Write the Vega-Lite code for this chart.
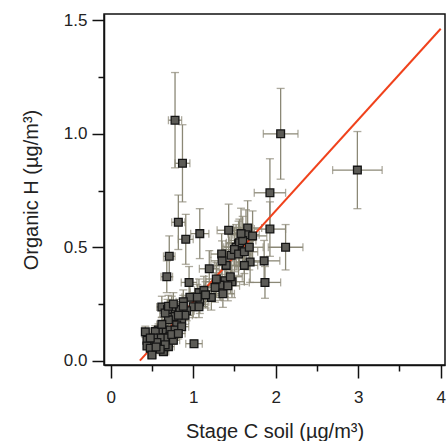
{
  "$schema": "https://vega.github.io/schema/vega-lite/v6.json",
  "width": 341,
  "height": 351,
  "autosize": {"type": "none"},
  "padding": {"left": 104, "top": 14, "right": 2, "bottom": 76},
  "background": "white",
  "config": {
    "font": "Liberation Sans",
    "view": {"stroke": "#111111", "strokeWidth": 1.5},
    "axis": {
      "grid": false,
      "domainColor": "#111111",
      "domainWidth": 1.5,
      "tickColor": "#111111",
      "tickWidth": 1.5,
      "labelFont": "Liberation Sans",
      "labelFontSize": 17,
      "labelColor": "#222222",
      "titleFont": "Liberation Sans",
      "titleFontSize": 20,
      "titleFontWeight": "normal",
      "titleColor": "#222222"
    }
  },
  "datasets": {
    "pts": [
      {"x":0.78,"y":1.06,"ex":0.08,"ey":0.21},
      {"x":0.87,"y":0.87,"ex":0.09,"ey":0.17},
      {"x":2.06,"y":1.00,"ex":0.21,"ey":0.20},
      {"x":2.99,"y":0.84,"ex":0.30,"ey":0.17},
      {"x":1.93,"y":0.74,"ex":0.19,"ey":0.15},
      {"x":0.82,"y":0.61,"ex":0.08,"ey":0.12},
      {"x":1.08,"y":0.56,"ex":0.11,"ey":0.11},
      {"x":0.91,"y":0.535,"ex":0.09,"ey":0.11},
      {"x":0.71,"y":0.46,"ex":0.07,"ey":0.09},
      {"x":0.68,"y":0.37,"ex":0.07,"ey":0.07},
      {"x":1.43,"y":0.575,"ex":0.14,"ey":0.115},
      {"x":1.66,"y":0.585,"ex":0.17,"ey":0.12},
      {"x":1.64,"y":0.555,"ex":0.16,"ey":0.11},
      {"x":1.93,"y":0.58,"ex":0.19,"ey":0.12},
      {"x":2.12,"y":0.50,"ex":0.21,"ey":0.10},
      {"x":1.55,"y":0.515,"ex":0.155,"ey":0.10},
      {"x":1.52,"y":0.50,"ex":0.15,"ey":0.10},
      {"x":1.345,"y":0.47,"ex":0.13,"ey":0.09},
      {"x":1.46,"y":0.465,"ex":0.15,"ey":0.09},
      {"x":1.69,"y":0.435,"ex":0.17,"ey":0.09},
      {"x":1.86,"y":0.44,"ex":0.19,"ey":0.09},
      {"x":1.87,"y":0.345,"ex":0.19,"ey":0.07},
      {"x":1.195,"y":0.405,"ex":0.12,"ey":0.08},
      {"x":0.95,"y":0.345,"ex":0.095,"ey":0.07},
      {"x":1.285,"y":0.348,"ex":0.13,"ey":0.07},
      {"x":1.385,"y":0.352,"ex":0.14,"ey":0.07},
      {"x":1.47,"y":0.348,"ex":0.15,"ey":0.07},
      {"x":1.325,"y":0.333,"ex":0.13,"ey":0.067},
      {"x":1.265,"y":0.323,"ex":0.13,"ey":0.065},
      {"x":1.36,"y":0.295,"ex":0.14,"ey":0.06},
      {"x":1.22,"y":0.279,"ex":0.12,"ey":0.056},
      {"x":1.08,"y":0.26,"ex":0.11,"ey":0.052},
      {"x":0.96,"y":0.28,"ex":0.096,"ey":0.056},
      {"x":1.01,"y":0.075,"ex":0.10,"ey":0.015},
      {"x":1.07,"y":0.30,"ex":0.107,"ey":0.06},
      {"x":1.00,"y":0.238,"ex":0.10,"ey":0.048},
      {"x":1.07,"y":0.238,"ex":0.107,"ey":0.048},
      {"x":0.62,"y":0.237,"ex":0.062,"ey":0.047},
      {"x":0.74,"y":0.237,"ex":0.074,"ey":0.047},
      {"x":0.69,"y":0.225,"ex":0.069,"ey":0.045},
      {"x":0.84,"y":0.225,"ex":0.084,"ey":0.045},
      {"x":0.88,"y":0.26,"ex":0.088,"ey":0.052},
      {"x":0.78,"y":0.195,"ex":0.078,"ey":0.039},
      {"x":0.86,"y":0.18,"ex":0.086,"ey":0.036},
      {"x":0.80,"y":0.157,"ex":0.08,"ey":0.031},
      {"x":0.70,"y":0.18,"ex":0.07,"ey":0.036},
      {"x":0.64,"y":0.135,"ex":0.064,"ey":0.027},
      {"x":0.58,"y":0.135,"ex":0.058,"ey":0.027},
      {"x":0.54,"y":0.128,"ex":0.054,"ey":0.026},
      {"x":0.42,"y":0.127,"ex":0.042,"ey":0.025},
      {"x":0.72,"y":0.135,"ex":0.072,"ey":0.027},
      {"x":0.78,"y":0.135,"ex":0.078,"ey":0.027},
      {"x":0.72,"y":0.106,"ex":0.072,"ey":0.021},
      {"x":0.66,"y":0.10,"ex":0.066,"ey":0.02},
      {"x":0.60,"y":0.10,"ex":0.06,"ey":0.02},
      {"x":0.52,"y":0.10,"ex":0.052,"ey":0.02},
      {"x":0.44,"y":0.09,"ex":0.044,"ey":0.018},
      {"x":0.44,"y":0.065,"ex":0.044,"ey":0.013},
      {"x":0.48,"y":0.055,"ex":0.048,"ey":0.011},
      {"x":0.50,"y":0.025,"ex":0.05,"ey":0.005},
      {"x":0.64,"y":0.04,"ex":0.064,"ey":0.008},
      {"x":0.70,"y":0.062,"ex":0.07,"ey":0.012},
      {"x":0.76,"y":0.09,"ex":0.076,"ey":0.018},
      {"x":0.86,"y":0.15,"ex":0.086,"ey":0.03},
      {"x":1.13,"y":0.31,"ex":0.113,"ey":0.062},
      {"x":1.56,"y":0.52,"ex":0.156,"ey":0.104},
      {"x":1.50,"y":0.49,"ex":0.15,"ey":0.098},
      {"x":1.60,"y":0.53,"ex":0.16,"ey":0.106},
      {"x":1.40,"y":0.42,"ex":0.14,"ey":0.084},
      {"x":1.35,"y":0.44,"ex":0.135,"ey":0.088},
      {"x":1.55,"y":0.47,"ex":0.155,"ey":0.094},
      {"x":1.62,"y":0.48,"ex":0.162,"ey":0.096},
      {"x":1.28,"y":0.36,"ex":0.128,"ey":0.072},
      {"x":1.42,"y":0.33,"ex":0.142,"ey":0.066},
      {"x":1.15,"y":0.29,"ex":0.115,"ey":0.058},
      {"x":0.92,"y":0.22,"ex":0.092,"ey":0.044},
      {"x":0.90,"y":0.20,"ex":0.09,"ey":0.04},
      {"x":0.82,"y":0.20,"ex":0.082,"ey":0.04},
      {"x":0.66,"y":0.21,"ex":0.066,"ey":0.042},
      {"x":0.62,"y":0.16,"ex":0.062,"ey":0.032},
      {"x":0.56,"y":0.08,"ex":0.056,"ey":0.016},
      {"x":0.66,"y":0.07,"ex":0.066,"ey":0.014},
      {"x":0.74,"y":0.115,"ex":0.074,"ey":0.023},
      {"x":0.82,"y":0.12,"ex":0.082,"ey":0.024},
      {"x":0.60,"y":0.05,"ex":0.06,"ey":0.01},
      {"x":0.55,"y":0.06,"ex":0.055,"ey":0.012},
      {"x":0.48,"y":0.10,"ex":0.048,"ey":0.02},
      {"x":0.70,"y":0.24,"ex":0.07,"ey":0.048},
      {"x":0.76,"y":0.25,"ex":0.076,"ey":0.05},
      {"x":0.88,"y":0.24,"ex":0.088,"ey":0.048},
      {"x":1.05,"y":0.28,"ex":0.105,"ey":0.056},
      {"x":1.45,"y":0.37,"ex":0.145,"ey":0.074},
      {"x":1.72,"y":0.55,"ex":0.172,"ey":0.11},
      {"x":1.68,"y":0.50,"ex":0.168,"ey":0.10},
      {"x":1.58,"y":0.56,"ex":0.158,"ey":0.112},
      {"x":1.62,"y":0.42,"ex":0.162,"ey":0.084}
    ],
    "fit": [
      {"x": 0.354, "y": 0.0},
      {"x": 4.0, "y": 1.463}
    ]
  },
  "encoding": {
    "x": {
      "field": "x",
      "type": "quantitative",
      "scale": {"domain": [-0.081, 4.052], "nice": false, "zero": false},
      "axis": {
        "title": "Stage C soil (µg/m³)",
        "values": [0, 0.5, 1, 1.5, 2, 2.5, 3, 3.5, 4],
        "labelExpr": "datum.value % 1 === 0 ? format(datum.value, 'd') : ''",
        "tickSize": {"condition": {"test": "datum.value % 1 === 0", "value": 13}, "value": 6},
        "labelPadding": 11,
        "labelFlush": false,
        "titlePadding": 16
      }
    },
    "y": {
      "field": "y",
      "type": "quantitative",
      "scale": {"domain": [-0.019, 1.528], "nice": false, "zero": false},
      "axis": {
        "title": "Organic H (µg/m³)",
        "values": [0, 0.25, 0.5, 0.75, 1, 1.25, 1.5],
        "labelExpr": "datum.value % 0.5 === 0 ? format(datum.value, '.1f') : ''",
        "tickSize": {"condition": {"test": "datum.value % 0.5 === 0", "value": 12}, "value": 6},
        "labelPadding": 5,
        "labelFlush": false,
        "titlePadding": 22
      }
    }
  },
  "layer": [
    {
      "data": {"name": "pts"},
      "mark": {"type": "errorbar", "ticks": {"size": 8}, "color": "#8b8876", "thickness": 1.3},
      "encoding": {"xError": {"field": "ex"}}
    },
    {
      "data": {"name": "pts"},
      "mark": {"type": "errorbar", "ticks": {"size": 8}, "color": "#8b8876", "thickness": 1.3},
      "encoding": {"yError": {"field": "ey"}}
    },
    {
      "data": {"name": "fit"},
      "mark": {"type": "line", "color": "#f0421c", "strokeWidth": 2},
      "encoding": {}
    },
    {
      "data": {"name": "pts"},
      "mark": {"type": "square", "size": 60, "fill": "#5c5b56", "stroke": "#151515", "strokeWidth": 1.3, "opacity": 1, "filled": true},
      "encoding": {}
    }
  ]
}
